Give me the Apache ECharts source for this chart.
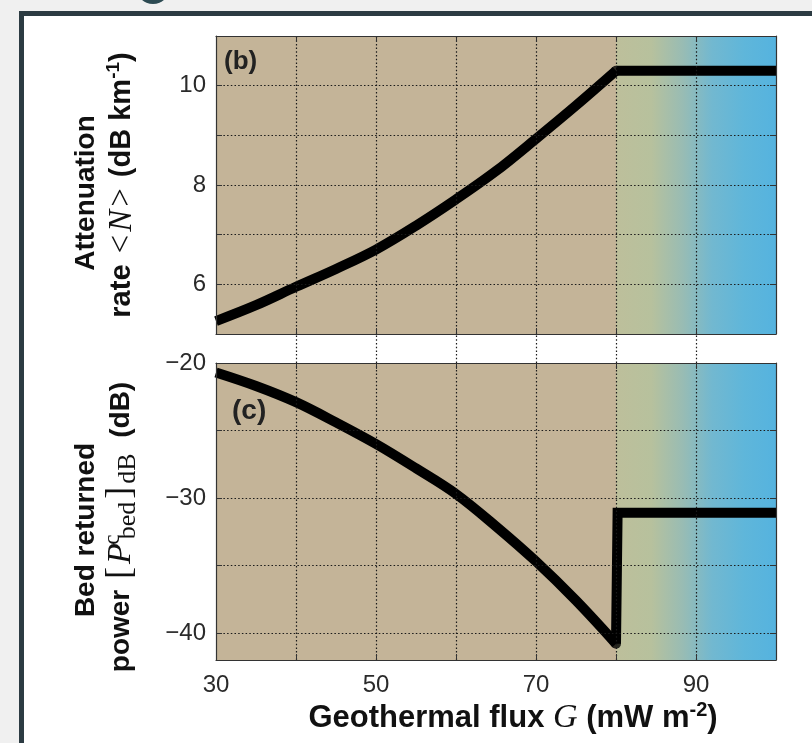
<!DOCTYPE html>
<html>
<head>
<meta charset="utf-8">
<script src="https://cdn.jsdelivr.net/npm/echarts@6/dist/echarts.min.js"></script>
<style>
html,body{margin:0;padding:0;width:812px;height:743px;overflow:hidden;background:#f0f0f0;}
#frame{position:absolute;left:19px;top:11px;width:900px;height:900px;background:#fff;border:5px solid #2c3b42;box-sizing:border-box;}
#dot{position:absolute;left:136px;top:-30px;width:34px;height:34px;border-radius:50%;background:#2d4b53;}
#chart{position:absolute;left:0;top:0;width:812px;height:743px;}
</style>
</head>
<body>
<div id="dot"></div>
<div id="frame"></div>
<div id="chart"></div>
<script>
// ---- data ----
const fluxB = [30, 35, 40, 45, 50, 55, 60, 65, 70, 75, 80, 100];
const attenB = [5.26, 5.58, 5.95, 6.31, 6.70, 7.18, 7.71, 8.28, 8.93, 9.60, 10.30, 10.30];
const fluxC = [30, 35, 40, 45, 50, 55, 60, 65, 70, 75, 80, 80.2, 100];
const powerC = [-20.7, -21.7, -22.9, -24.4, -26.0, -27.8, -29.7, -32.1, -34.7, -37.6, -40.8, -31.1, -31.1];
const transitionFlux = 80;
const zoneEdges = [30, 80, 100];
const xGrid = [40, 50, 60, 70, 80, 90];
const xLabels = [30, 50, 70, 90];
const yGridB = [6, 7, 8, 9, 10];
const yLabelsB = [6, 8, 10];
const yGridC = [-40, -35, -30, -25];
const yTicksC = [-40, -35, -30, -25, -20];
const yLabelsC = [-40, -30, -20];

const chart = echarts.init(document.getElementById('chart'), null, {renderer: 'canvas'});
const sans = 'Liberation Sans, Arial, sans-serif';
const serif = 'Liberation Serif, Times New Roman, serif';
const axisColor = '#333';
const tickFont = {fontFamily: sans, fontSize: 24, color: '#2a2a2a'};

const grad = new echarts.graphic.LinearGradient(0, 0, 1, 0, [
  {offset: 0, color: '#bdbf9b'},
  {offset: 0.22, color: '#b7c19d'},
  {offset: 0.42, color: '#98bcb4'},
  {offset: 0.6, color: '#72b8d0'},
  {offset: 0.8, color: '#5fb6da'},
  {offset: 1, color: '#55b3df'}
]);
const zoneAreas = [
  [{xAxis: zoneEdges[0], itemStyle: {color: '#c4b498'}}, {xAxis: zoneEdges[1]}],
  [{xAxis: zoneEdges[1], itemStyle: {color: grad}}, {xAxis: zoneEdges[2]}]
];
const dotted = {color: '#1a1a1a', type: [1.5, 2.2], width: 1.2};
function gridLines(ys) {
  return xGrid.map(v => ({xAxis: v})).concat(ys.map(v => ({yAxis: v})));
}
const minus = v => String(v).replace('-', '\u2212');
const pairs = (xs, ys) => xs.map((g, i) => [g, ys[i]]);
const riseB = pairs(fluxB, attenB).filter(p => p[0] <= transitionFlux);
const flatB = pairs(fluxB, attenB).filter(p => p[0] >= transitionFlux);
const riseC = pairs(fluxC, powerC).filter(p => p[0] <= transitionFlux);
const flatC = pairs(fluxC, powerC).filter(p => p[0] >= transitionFlux);
const kinkB = pairs(fluxB, attenB).filter(p => p[0] === transitionFlux);
const kinkC = pairs(fluxC, powerC).filter(p => p[0] === transitionFlux);

function xAx(grid, pos, labels) {
  return {
    type: 'value', gridIndex: grid, position: pos, min: 30, max: 100, interval: 10, z: 10,
    axisLine: {show: true, onZero: false, lineStyle: {color: axisColor, width: 1.2}},
    axisTick: {show: true, inside: true, length: 6, lineStyle: {color: axisColor}},
    axisLabel: {show: labels, margin: 13, ...tickFont, formatter: v => xLabels.includes(v) ? String(v) : ''},
    splitLine: {show: false}
  };
}
function yAx(grid, pos, min, max, extra) {
  return Object.assign({
    type: 'value', gridIndex: grid, position: pos, min: min, max: max, z: 10,
    axisLine: {show: true, onZero: false, lineStyle: {color: axisColor, width: 1.2}},
    axisTick: {show: true, inside: true, length: 6, lineStyle: {color: axisColor}},
    axisLabel: {show: false},
    splitLine: {show: false}
  }, extra);
}
const curveStyle = {color: '#000', width: 10, join: 'round', cap: 'butt'};
function kinkSeries(xi, yi, data) {
  return {type: 'scatter', xAxisIndex: xi, yAxisIndex: yi, z: 4, silent: true, data: data,
    symbol: 'circle', symbolSize: 10, itemStyle: {color: '#000'}};
}

const option = {
  animation: false,
  backgroundColor: 'transparent',
  grid: [
    {left: 216, top: 36, width: 560, height: 298},
    {left: 216, top: 363, width: 560, height: 297},
    {left: 216, top: 334, width: 560, height: 29}
  ],
  xAxis: [
    xAx(0, 'bottom', false),
    xAx(0, 'top', false),
    xAx(1, 'bottom', true),
    xAx(1, 'top', false),
    {type: 'value', gridIndex: 2, min: 30, max: 100, show: false}
  ],
  yAxis: [
    yAx(0, 'left', 5, 11, {interval: 1,
      axisLabel: {show: true, margin: 10, ...tickFont, formatter: v => yLabelsB.includes(v) ? String(v) : ''}}),
    yAx(0, 'right', 5, 11, {interval: 1}),
    yAx(1, 'left', -42, -20, {
      axisTick: {show: true, inside: true, length: 6, customValues: yTicksC, lineStyle: {color: axisColor}},
      axisLabel: {show: true, margin: 10, ...tickFont, customValues: yLabelsC, formatter: v => minus(v)}}),
    yAx(1, 'right', -42, -20, {
      axisTick: {show: true, inside: true, length: 6, customValues: yTicksC, lineStyle: {color: axisColor}}}),
    {type: 'value', gridIndex: 2, min: 0, max: 1, show: false}
  ],
  series: [
    {type: 'line', xAxisIndex: 0, yAxisIndex: 0, data: [], z: 1, silent: true,
      markArea: {silent: true, data: zoneAreas}},
    {type: 'line', xAxisIndex: 0, yAxisIndex: 0, data: [], z: 2, silent: true,
      markLine: {silent: true, symbol: ['none', 'none'], label: {show: false}, lineStyle: dotted, data: gridLines(yGridB)}},
    {type: 'line', xAxisIndex: 0, yAxisIndex: 0, z: 3, showSymbol: false, silent: true, smooth: 0.35,
      data: riseB, lineStyle: curveStyle},
    {type: 'line', xAxisIndex: 0, yAxisIndex: 0, z: 3, showSymbol: false, silent: true,
      data: flatB, lineStyle: curveStyle},
    kinkSeries(0, 0, kinkB),
    {type: 'line', xAxisIndex: 2, yAxisIndex: 2, data: [], z: 1, silent: true,
      markArea: {silent: true, data: zoneAreas}},
    {type: 'line', xAxisIndex: 2, yAxisIndex: 2, data: [], z: 2, silent: true,
      markLine: {silent: true, symbol: ['none', 'none'], label: {show: false}, lineStyle: dotted, data: gridLines(yGridC)}},
    {type: 'line', xAxisIndex: 2, yAxisIndex: 2, z: 3, showSymbol: false, silent: true, smooth: 0.35,
      data: riseC, lineStyle: curveStyle},
    {type: 'line', xAxisIndex: 2, yAxisIndex: 2, z: 3, showSymbol: false, silent: true,
      data: flatC, lineStyle: {color: '#000', width: 10, join: 'miter', cap: 'butt'}},
    kinkSeries(2, 2, kinkC),
    {type: 'line', xAxisIndex: 4, yAxisIndex: 4, data: [], z: 2, silent: true,
      markLine: {silent: true, symbol: ['none', 'none'], label: {show: false}, lineStyle: dotted, data: xGrid.map(v => ({xAxis: v}))}}
  ],
  graphic: [
    {type: 'text', x: 86, y: 193, rotation: Math.PI / 2, z: 20,
      style: {text: 'Attenuation', align: 'center', verticalAlign: 'middle', font: 'bold 28px ' + sans, fill: '#111'}},
    {type: 'text', x: 122, y: 185, rotation: Math.PI / 2, z: 20,
      style: {text: '{b|rate }{s|<}{i|N}{s|>}{b| (dB km}{sup|-1}{b|)}', align: 'center', verticalAlign: 'middle',
        rich: {
          b: {fontFamily: sans, fontWeight: 'bold', fontSize: 29, lineHeight: 36, fill: '#111'},
          s: {fontFamily: serif, fontSize: 33, lineHeight: 36, fill: '#111', padding: [0, 3, 0, 3]},
          i: {fontFamily: serif, fontStyle: 'italic', fontSize: 33, lineHeight: 36, fill: '#111'},
          sup: {fontFamily: sans, fontWeight: 'bold', fontSize: 19, lineHeight: 19, verticalAlign: 'top', fill: '#111'}
        }}},
    {type: 'text', x: 86, y: 530, rotation: Math.PI / 2, z: 20,
      style: {text: 'Bed returned', align: 'center', verticalAlign: 'middle', font: 'bold 28px ' + sans, fill: '#111'}},
    {type: 'text', x: 121, y: 527, rotation: Math.PI / 2, z: 20,
      style: {text: '{b|power }{s|[}{i|P}{sup|c}{sub|bed}{s|]}{sub|dB}{b|  (dB)}', align: 'center', verticalAlign: 'middle',
        rich: {
          b: {fontFamily: sans, fontWeight: 'bold', fontSize: 28, lineHeight: 40, fill: '#111'},
          s: {fontFamily: serif, fontSize: 36, lineHeight: 40, fill: '#111', padding: [0, 3, 0, 3]},
          i: {fontFamily: serif, fontStyle: 'italic', fontSize: 34, lineHeight: 40, fill: '#111', padding: [0, 3, 0, 0]},
          sup: {fontFamily: serif, fontSize: 23, lineHeight: 23, width: 1, verticalAlign: 'top', fill: '#111'},
          sub: {fontFamily: serif, fontSize: 26, lineHeight: 26, verticalAlign: 'bottom', fill: '#111'}
        }}},
    {type: 'text', x: 513, y: 718, z: 20,
      style: {text: '{b|Geothermal flux }{g|G}{b| (mW m}{sup|-2}{b|)}', align: 'center', verticalAlign: 'middle',
        rich: {
          b: {fontFamily: sans, fontWeight: 'bold', fontSize: 31, lineHeight: 36, fill: '#111'},
          g: {fontFamily: serif, fontStyle: 'italic', fontSize: 34, lineHeight: 36, fill: '#111'},
          sup: {fontFamily: sans, fontWeight: 'bold', fontSize: 20, lineHeight: 20, verticalAlign: 'top', fill: '#111'}
        }}},
    {type: 'text', x: 224, y: 62, z: 20,
      style: {text: '(b)', align: 'left', verticalAlign: 'middle', font: 'bold 26px ' + sans, fill: '#222'}},
    {type: 'text', x: 232, y: 411, z: 20,
      style: {text: '(c)', align: 'left', verticalAlign: 'middle', font: 'bold 28px ' + sans, fill: '#222'}}
  ]
};
chart.setOption(option);
</script>
</body>
</html>
